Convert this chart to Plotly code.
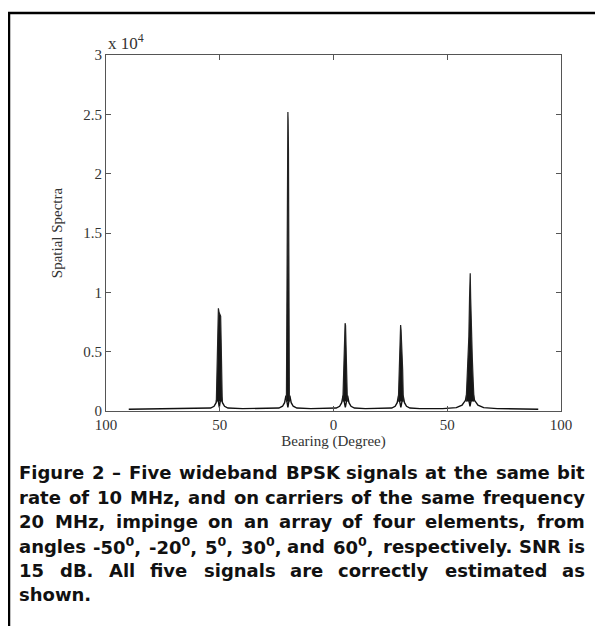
import re
import plotly.graph_objects as go

# ---------------- data ----------------
# baseline + skirt of every peak (bearing in degrees, spectrum value)
base_bearing = [-90, -60, -54, -52.5, -51.6, -51.0, -50.2, -49.4, -48.8, -47.9, -46.4, -40,
                -30, -24, -22.4, -21.5, -20.9, -20.05, -19.2, -18.6, -17.7, -16.1, -10,
                -2, 1.2, 2.7, 3.6, 4.2, 5.2, 6.2, 6.8, 7.7, 9.2, 14,
                22, 25.6, 27.1, 28.0, 28.6, 29.6, 30.6, 31.2, 32.1, 33.6, 38,
                48, 54, 56.5, 58.0, 58.8, 60.0, 61.2, 62.0, 63.5, 66, 72, 90]
base_value = [150, 200, 250, 400, 700, 1300, 300, 1300, 700, 400, 250, 200,
              200, 250, 400, 700, 1300, 300, 1300, 700, 400, 250, 200,
              200, 250, 400, 700, 1300, 300, 1300, 700, 400, 250, 200,
              200, 250, 400, 700, 1300, 300, 1300, 700, 400, 250, 200,
              200, 280, 500, 900, 1600, 400, 1600, 900, 500, 280, 200, 150]

# spike cores (filled)
peak1_bearing = [-51.5, -51.2, -51.0, -50.8, -50.6, -50.3, -50.0, -49.6, -49.4, -49.2, -48.9]
peak1_value = [800, 3000, 6000, 8000, 8650, 8300, 8100, 8000, 6000, 3000, 800]
peak2_bearing = [-20.7, -20.5, -20.3, -20.15, -20.05, -19.95, -19.8, -19.6, -19.4]
peak2_value = [800, 8000, 22000, 24500, 25200, 24500, 22000, 8000, 800]
peak3_bearing = [4.1, 4.4, 4.7, 4.9, 5.1, 5.3, 5.5, 5.8, 6.1]
peak3_value = [800, 3000, 6000, 7200, 7400, 7200, 6000, 3000, 800]
peak4_bearing = [28.5, 28.8, 29.1, 29.3, 29.5, 29.7, 29.9, 30.2, 30.4, 30.7]
peak4_value = [800, 3000, 6000, 7200, 7250, 6800, 5800, 5600, 3500, 800]
peak5_bearing = [58.3, 58.7, 59.1, 59.5, 59.8, 59.95, 60.1, 60.3, 60.6, 61.0, 61.4, 61.8]
peak5_value = [800, 2500, 4500, 6300, 9500, 11600, 11600, 9500, 6300, 4500, 2500, 800]

x_ticks = [-100, -50, 0, 50, 100]
x_tick_labels = ["100", "50", "0", "50", "100"]
y_ticks = [0, 5000, 10000, 15000, 20000, 25000, 30000]
y_tick_labels = ["0", "0.5", "1", "1.5", "2", "2.5", "3"]

caption_lines = [
    "Figure 2 \u2013 Five wideband BPSK signals at the same bit",
    "rate of 10 MHz, and on carriers of the same frequency",
    "20 MHz, impinge on an array of four elements, from",
    "angles -50<sup>0</sup>, -20<sup>0</sup>, 5<sup>0</sup>, 30<sup>0</sup>, and 60<sup>0</sup>, respectively. SNR is",
    "15 dB. All five signals are correctly estimated as",
    "shown.",
]
caption_justified = [True, True, True, True, True, False]

# ---------------- figure ----------------
OFF = 8  # page body margin: screen position = figure position + OFF
W, H = 603 - OFF, 626 - OFF
L, R, T, B = 106 - OFF, 603 - 561, 55 - OFF, 626 - 411
pw, ph = W - L - R, H - T - B

fig = go.Figure()
fig.add_trace(go.Scatter(x=base_bearing, y=base_value, mode="lines",
                         line=dict(color="#111", width=1.4), hoverinfo="skip"))
for xs, ys in [(peak1_bearing, peak1_value), (peak2_bearing, peak2_value),
               (peak3_bearing, peak3_value), (peak4_bearing, peak4_value),
               (peak5_bearing, peak5_value)]:
    fig.add_trace(go.Scatter(x=xs, y=ys, mode="lines", fill="toself",
                             fillcolor="#151515", line=dict(color="#222", width=1.2),
                             hoverinfo="skip"))

axis_font = dict(family="Liberation Serif, Times New Roman, serif", size=15, color="#333")
fig.update_xaxes(range=[-100, 100], tickvals=x_ticks, ticktext=x_tick_labels,
                 ticks="inside", ticklen=5, tickcolor="#555", showline=True,
                 linecolor="#555", linewidth=1, mirror="allticks", showgrid=False,
                 zeroline=False, tickfont=axis_font,
                 title=dict(text="Bearing (Degree)", font=axis_font, standoff=3))
fig.update_yaxes(range=[0, 30000], tickvals=y_ticks, ticktext=y_tick_labels,
                 ticks="inside", ticklen=5, tickcolor="#555", showline=True,
                 linecolor="#555", linewidth=1, mirror="allticks", showgrid=False,
                 zeroline=False, tickfont=axis_font,
                 title=dict(text="Spatial Spectra", font=axis_font, standoff=17))

def px_x(p):  # screen pixel -> paper x
    return (p - OFF - L) / pw

def px_y(p):  # screen pixel -> paper y
    return (T + ph - (p - OFF)) / ph

# approximate advance widths of DejaVu Sans Bold (em units) for justification
ADV = {' ': 0.348, 'a': 0.675, 'b': 0.716, 'c': 0.592, 'd': 0.716, 'e': 0.678, 'f': 0.435,
       'g': 0.716, 'h': 0.712, 'i': 0.343, 'j': 0.343, 'k': 0.665, 'l': 0.343, 'm': 1.042,
       'n': 0.712, 'o': 0.687, 'p': 0.716, 'q': 0.716, 'r': 0.493, 's': 0.595, 't': 0.478,
       'u': 0.712, 'v': 0.652, 'w': 0.924, 'x': 0.645, 'y': 0.652, 'z': 0.582,
       'A': 0.774, 'B': 0.762, 'C': 0.734, 'D': 0.830, 'E': 0.683, 'F': 0.683, 'H': 0.837,
       'I': 0.372, 'K': 0.775, 'L': 0.637, 'M': 0.995, 'N': 0.837, 'P': 0.733, 'R': 0.770,
       'S': 0.720, 'T': 0.682, 'Z': 0.686, ',': 0.380, '.': 0.380, '-': 0.415,
       '\u2013': 0.500}

def word_width(word, size):
    w = 0.0
    for part in re.split(r"(<sup>.*?</sup>)", word):
        if part.startswith("<sup>"):
            inner = part[5:-6]
            w += sum(ADV.get(c, 0.696) for c in inner) * size * 0.75
        else:
            w += sum(ADV.get(c, 0.696) for c in part) * size
    return w * 1.005

cap_size = 18
cap_font = dict(family="DejaVu Sans, sans-serif", size=cap_size, color="#111")
cap_left, cap_right = 18, 586
line_y = [472, 497, 521, 546, 570, 594]

annotations = [dict(text="x 10<sup>4</sup>", xref="paper", yref="paper",
                    x=px_x(106), y=px_y(42), xanchor="left", yanchor="middle",
                    showarrow=False, font=dict(axis_font, size=17))]

def add_word(text, xpix, ypix, anchor):
    annotations.append(dict(text="<b>" + text + "</b>", xref="paper", yref="paper",
                            x=px_x(xpix), y=px_y(ypix), xanchor=anchor, yanchor="middle",
                            showarrow=False, font=cap_font, borderpad=0))

for txt, yy, just in zip(caption_lines, line_y, caption_justified):
    if not just:
        add_word(txt, cap_left, yy, "left")
        continue
    words = txt.split(" ")
    n = len(words)
    widths = [word_width(wd, cap_size) for wd in words]
    gap = (cap_right - cap_left - sum(widths)) / (n - 1)
    half = (n + 1) // 2
    # left half: laid out from the left margin
    x = cap_left
    for i in range(half):
        add_word(words[i], x, yy, "left")
        x += widths[i] + gap
    # right half: laid out from the right margin
    x = cap_right
    for i in range(n - 1, half - 1, -1):
        add_word(words[i], x, yy, "right")
        x -= widths[i] + gap

shapes = [
    dict(type="line", xref="paper", yref="paper", x0=px_x(8), x1=px_x(603),
         y0=px_y(13), y1=px_y(13), line=dict(color="black", width=2.5)),
    dict(type="line", xref="paper", yref="paper", x0=px_x(9), x1=px_x(9),
         y0=px_y(12), y1=px_y(626), line=dict(color="black", width=2.5)),
]

fig.update_layout(width=W, height=H, margin=dict(l=L, r=R, t=T, b=B),
                  paper_bgcolor="white", plot_bgcolor="white", showlegend=False,
                  annotations=annotations, shapes=shapes)

fig.write_html("out.html")
